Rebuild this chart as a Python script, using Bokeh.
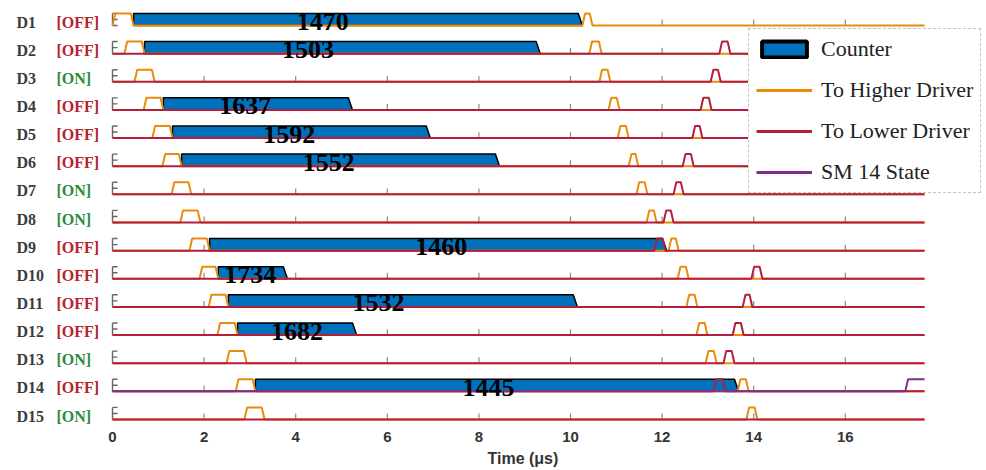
from bokeh.plotting import figure
from bokeh.models import Range1d, FixedTicker, ColumnDataSource, Legend, LegendItem, Title
from bokeh.core.properties import value
from bokeh.embed import file_html
from bokeh.resources import INLINE

# ---------------- data (times in microseconds) ----------------
rows = ["D1", "D2", "D3", "D4", "D5", "D6", "D7", "D8", "D9", "D10", "D11", "D12", "D13", "D14", "D15"]
states = ["OFF", "OFF", "ON", "OFF", "OFF", "OFF", "ON", "ON", "OFF", "OFF", "OFF", "OFF", "ON", "OFF", "ON"]
hi1_start = [0.00, 0.26, 0.48, 0.68, 0.87, 1.09, 1.29, 1.48, 1.68, 1.90, 2.10, 2.29, 2.49, 2.69, 2.88]
hi1_end = [0.46, 0.70, 0.92, 1.11, 1.31, 1.51, 1.72, 1.92, 2.12, 2.31, 2.53, 2.73, 2.93, 3.12, 3.32]
bar_end = [10.26, 9.34, None, 5.24, 6.94, 8.45, None, None, 12.10, 3.82, 10.15, 5.33, None, 13.67, None]
counts = [1470, 1503, None, 1637, 1592, 1552, None, None, 1460, 1734, 1532, 1682, None, 1445, None]
count_x = [4.59, 4.27, None, 2.90, 3.86, 4.72, None, None, 7.18, 3.01, 5.81, 4.03, None, 8.21, None]
hi2_start = [10.26, 10.41, 10.63, 10.83, 11.03, 11.27, 11.44, 11.66, 12.14, 12.34, 12.53, 12.75, 12.95, 13.65, 13.84]
hi2_end = [10.48, 10.68, 10.87, 11.07, 11.27, 11.48, 11.68, 11.88, 12.36, 12.58, 12.77, 12.99, 13.19, 13.89, 14.08]
lo_start = [None, 13.25, 13.06, 12.84, 12.66, 12.45, 12.25, 12.03, 11.83, 13.95, 13.76, 13.54, 13.34, 13.12, None]
lo_end = [None, 13.49, 13.28, 13.08, 12.88, 12.69, 12.47, 12.25, 12.07, 14.19, 13.97, 13.78, 13.58, 13.38, None]
sm14_row = "D14"
sm14_rise = 17.31
t_end = 17.73
x_ticks = [0, 2, 4, 6, 8, 10, 12, 14, 16]

# ---------------- styles ----------------
BLUE = "#0072BD"
ORANGE = "#EC8A0C"
RED = "#B51D3C"
PURPLE = "#7E2F8E"
OFF_C = "#B8222E"
ON_C = "#2E8B3E"
H = 0.43     # pulse / bar height (row units)
SL = 0.06    # pulse edge slant
BSL = 0.09   # bar end slant
NAME_X = -2.096
STATE_X = -1.223

p = figure(width=986, height=470, output_backend="svg", toolbar_location=None,
           x_range=Range1d(-2.4454, 19.083), y_range=Range1d(-15.178, -0.1116),
           min_border_left=0, min_border_right=0, min_border_top=0, min_border_bottom=46)
p.outline_line_color = None
p.xgrid.visible = False
p.ygrid.visible = False
p.yaxis.visible = False

ax = p.xaxis[0]
ax.ticker = FixedTicker(ticks=x_ticks)
ax.axis_line_color = None
ax.major_tick_line_color = None
ax.minor_tick_line_color = None
ax.major_label_standoff = 1
ax.major_label_text_font = "Liberation Sans"
ax.major_label_text_font_style = "bold"
ax.major_label_text_font_size = "15px"
ax.major_label_text_color = "#333333"
p.add_layout(Title(text="Time (μs)", align="left", offset=487, standoff=7,
                   text_font="Liberation Sans", text_font_style="bold",
                   text_font_size="16px", text_color="#333333"), "below")

bases = [-(i + 1) for i in range(len(rows))]

# small per-row ticks and the "E" y-axes
tx0, ty0, tx1, ty1 = [], [], [], []
for b in bases:
    for t in x_ticks[1:]:
        tx0.append(t); tx1.append(t); ty0.append(b); ty1.append(b + 0.21)
p.segment(tx0, ty0, tx1, ty1, line_color="#8a8a8a", line_width=1.2)
ex0, ey0, ex1, ey1 = [], [], [], []
for b in bases:
    ex0.append(0); ex1.append(0); ey0.append(b); ey1.append(b + H)
    for f in (0, 0.5, 1.0):
        ex0.append(0); ex1.append(0.11); ey0.append(b + f * H); ey1.append(b + f * H)
p.segment(ex0, ey0, ex1, ey1, line_color="#666666", line_width=1.4)

# counter bars
bxs, bys = [], []
for i, b in enumerate(bases):
    if bar_end[i] is None:
        continue
    s, e = hi1_end[i], bar_end[i]
    bxs.append([s, s, e - BSL, e])
    bys.append([b, b + H, b + H, b])
p.patches(bxs, bys, fill_color=BLUE, line_color="black", line_width=1.5)


def pulse_path(b, pulses):
    xs, ys = [0], [b]
    for (a, c) in pulses:
        xs += [a, a + SL, c - SL, c]
        ys += [b, b + H, b + H, b]
    xs.append(t_end); ys.append(b)
    return xs, ys


oxs, oys = [], []
for i, b in enumerate(bases):
    xs, ys = pulse_path(b, [(hi1_start[i], hi1_end[i]), (hi2_start[i], hi2_end[i])])
    oxs.append(xs); oys.append(ys)
p.multi_line(oxs, oys, line_color=ORANGE, line_width=2)

rxs, rys = [], []
for i, b in enumerate(bases):
    if rows[i] == "D1":
        continue
    pulses = [] if lo_start[i] is None else [(lo_start[i], lo_end[i])]
    xs, ys = pulse_path(b, pulses)
    rxs.append(xs); rys.append(ys)
p.multi_line(rxs, rys, line_color=RED, line_width=2)

b14 = bases[rows.index(sm14_row)]
p.line([0, sm14_rise, sm14_rise + SL, t_end], [b14, b14, b14 + H, b14 + H],
       line_color=PURPLE, line_width=2)

# counter labels
cx, cy, ct = [], [], []
for i, b in enumerate(bases):
    if counts[i] is None:
        continue
    cx.append(count_x[i]); cy.append(b + 0.14); ct.append(str(counts[i]))
p.text(x=cx, y=cy, text=ct, text_font=value("Liberation Serif"), text_font_style="bold",
       text_font_size="26px", text_align="center", text_baseline="middle", text_color="black")

# row labels
lab_src = ColumnDataSource(dict(
    x=[NAME_X] * len(rows), sx=[STATE_X] * len(rows), y=[b + 0.12 for b in bases],
    name=rows, state=["[" + s + "]" for s in states],
    col=[OFF_C if s == "OFF" else ON_C for s in states]))
p.text(x="x", y="y", text="name", source=lab_src, text_font=value("Liberation Serif"),
       text_font_style="bold", text_font_size="16px", text_color="#3c3c3c",
       text_baseline="middle", text_align="left")
p.text(x="sx", y="y", text="state", source=lab_src, text_font=value("Liberation Serif"),
       text_font_style="bold", text_font_size="16px", text_color="col",
       text_baseline="middle", text_align="left")

# legend (NaN-only renderers that exist only to draw legend glyphs)
nan = float("nan")
src0 = ColumnDataSource(dict(x=[nan], y=[nan]))
r_cnt = p.patch("x", "y", source=src0, fill_color=BLUE, line_color="black", line_width=4)
r_hi = p.line("x", "y", source=src0, line_color=ORANGE, line_width=3)
r_lo = p.line("x", "y", source=src0, line_color=RED, line_width=3)
r_sm = p.line("x", "y", source=src0, line_color=PURPLE, line_width=3)
legend = Legend(items=[LegendItem(label="Counter", renderers=[r_cnt]),
                       LegendItem(label="To Higher Driver", renderers=[r_hi]),
                       LegendItem(label="To Lower Driver", renderers=[r_lo]),
                       LegendItem(label="SM 14 State", renderers=[r_sm])],
                location=(748, 231), margin=0, padding=7, spacing=15,
                glyph_width=56, glyph_height=20, label_height=20, label_standoff=9,
                label_text_font="Liberation Serif", label_text_font_size="22px",
                label_text_color="#222222",
                border_line_color="#8c8c8c", border_line_dash="4 3", border_line_width=1,
                background_fill_color="white", background_fill_alpha=1.0)
p.add_layout(legend)

open("out.html", "w").write(file_html(p, INLINE))
